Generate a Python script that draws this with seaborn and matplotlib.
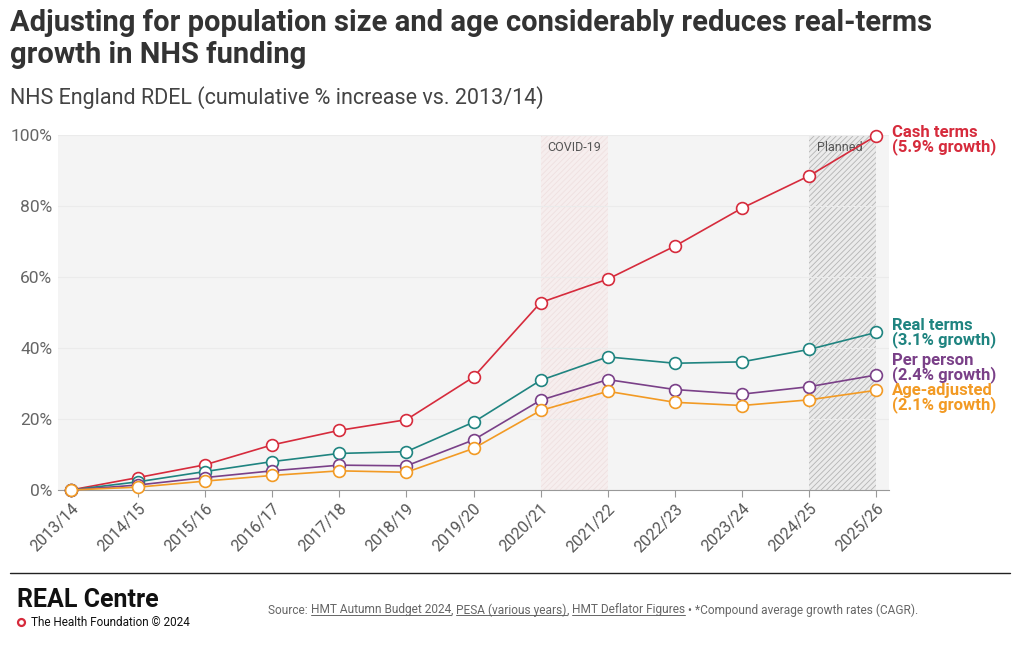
import numpy as np
import pandas as pd
import matplotlib
matplotlib.use('Agg')
import matplotlib.pyplot as plt
import seaborn as sns

years = ['2013/14', '2014/15', '2015/16', '2016/17', '2017/18', '2018/19', '2019/20',
         '2020/21', '2021/22', '2022/23', '2023/24', '2024/25', '2025/26']
cash = [0, 3.5, 7.1, 12.7, 16.8, 19.8, 31.8, 52.8, 59.4, 68.7, 79.4, 88.5, 99.8]
real = [0, 2.3, 5.2, 8.0, 10.3, 10.8, 19.1, 30.9, 37.5, 35.7, 36.1, 39.6, 44.4]
per_person = [0, 1.4, 3.5, 5.4, 7.0, 6.8, 14.1, 25.3, 31.1, 28.3, 27.0, 29.1, 32.4]
age_adj = [0, 0.8, 2.5, 4.1, 5.4, 5.0, 11.7, 22.4, 27.8, 24.7, 23.8, 25.4, 28.1]

series_names = ['Cash terms', 'Real terms', 'Per person', 'Age-adjusted']
growth = ['5.9%', '3.1%', '2.4%', '2.1%']
colors = ['#d62b3c', '#1f8480', '#7a4088', '#f29a24']

df = pd.DataFrame({'year': years, 'Cash terms': cash, 'Real terms': real,
                   'Per person': per_person, 'Age-adjusted': age_adj})
df['x'] = np.arange(len(years))

sns.set_theme(style='white')
plt.rcParams['font.family'] = ['Roboto', 'DejaVu Sans']
plt.rcParams['hatch.linewidth'] = 0.6

fig = plt.figure(figsize=(10.2, 6.5), dpi=100)
ax = fig.add_axes([58 / 1020, 1 - 490 / 650, (889 - 58) / 1020, (490 - 135) / 650])
ax.set_facecolor('#f4f4f4')

# shaded periods
ax.axvspan(7, 8, facecolor='#f6eeee', edgecolor='#efe0e0', hatch='//////', linewidth=0, zorder=0)
ax.axvspan(11, 12, facecolor='#ebebeb', edgecolor='#b4b4b4', hatch='//////', linewidth=0, zorder=0)
ax.text(7.5, 96.5, 'COVID-19', ha='center', va='center', fontsize=9, color='#555555')
ax.text(11.45, 96.5, 'Planned', ha='center', va='center', fontsize=9, color='#555555')

for name, c in zip(series_names, colors):
    sns.lineplot(data=df, x='x', y=name, ax=ax, color=c, linewidth=1.2, marker='o',
                 markersize=8.5, markerfacecolor='white', markeredgecolor=c,
                 markeredgewidth=1.2, zorder=3, clip_on=False)

ax.set_xlim(-0.19, 12.19)
ax.set_ylim(0, 100)
ax.set_yticks([0, 20, 40, 60, 80, 100])
ax.set_yticklabels([f'{v}%' for v in [0, 20, 40, 60, 80, 100]])
ax.set_xticks(df['x'])
ax.set_xticklabels(years, rotation=45, ha='right', rotation_mode='anchor')
ax.tick_params(axis='y', length=0, labelsize=12.5, labelcolor='#666666', pad=4)
ax.tick_params(axis='x', length=5, width=0.8, color='#999999', labelsize=11.5,
               labelcolor='#555555', pad=3, bottom=True)
ax.grid(axis='y', color='#ebebeb', linewidth=0.8)
ax.set_axisbelow(True)
ax.set_xlabel('')
ax.set_ylabel('')
for s in ['top', 'right', 'left']:
    ax.spines[s].set_visible(False)
ax.spines['bottom'].set_color('#999999')
ax.spines['bottom'].set_linewidth(0.8)

# end labels
label_offsets = [-1.2, -0.3, 2.0, -2.2]
vals = [cash, real, per_person, age_adj]
for name, g, c, v, off in zip(series_names, growth, colors, vals, label_offsets):
    ax.text(12.24, v[-1] + off, f'{name}\n({g} growth)', color=c, fontsize=12,
            fontweight='bold', ha='left', va='center', linespacing=0.85, clip_on=False)

# titles
fig.text(10 / 1020, 1 - 9 / 650, 'Adjusting for population size and age considerably reduces real-terms\ngrowth in NHS funding',
         ha='left', va='top', fontsize=21, fontweight='bold', color='#333333', linespacing=1.2)
fig.text(10 / 1020, 1 - 98 / 650, 'NHS England RDEL (cumulative % increase vs. 2013/14)',
         ha='left', va='center', fontsize=15.5, color='#444444')

# footer
fig.add_artist(plt.Line2D([10 / 1020, 1010 / 1020], [1 - 573 / 650, 1 - 573 / 650],
                          color='#222222', linewidth=1))
fig.text(17 / 1020, 1 - 600 / 650, 'REAL Centre', ha='left', va='center', fontsize=18,
         fontweight='bold', color='#111111')
fig.add_artist(plt.Line2D([21 / 1020], [1 - 622 / 650], marker='o', markersize=5,
                          markerfacecolor='white', markeredgecolor='#d62b3c', markeredgewidth=1.6))
fig.text(31 / 1020, 1 - 622 / 650, 'The Health Foundation © 2024', ha='left', va='center',
         fontsize=8.5, color='#111111')

parts = [('Source: ', False), ('HMT Autumn Budget 2024', True), (', ', False),
         ('PESA (various years)', True), (', ', False), ('HMT Deflator Figures', True),
         (' • *Compound average growth rates (CAGR).', False)]
fig.canvas.draw()
renderer = fig.canvas.get_renderer()
xpix = 268
ypos = 1 - 610 / 650
for txt, link in parts:
    t = fig.text(xpix / 1020, ypos, txt, ha='left', va='center', fontsize=8.6, color='#666666')
    bb = t.get_window_extent(renderer)
    if link:
        yl = (bb.y0 + 1.5) / 650
        fig.add_artist(plt.Line2D([bb.x0 / 1020, bb.x1 / 1020], [yl, yl], color='#666666', linewidth=0.7))
    xpix = bb.x1

fig.savefig('out.png', dpi=100)
